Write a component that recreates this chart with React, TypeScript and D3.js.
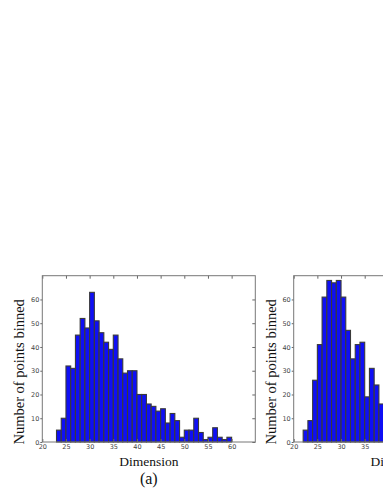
import { useEffect, useRef } from 'react';
import * as d3 from 'd3';

// bin start values (bin width = 1) and counts
const binsA = [20, 21, 22, 23, 24, 25, 26, 27, 28, 29, 30, 31, 32, 33, 34, 35, 36, 37, 38, 39, 40,
  41, 42, 43, 44, 45, 46, 47, 48, 49, 50, 51, 52, 53, 54, 55, 56, 57, 58, 59, 60, 61];
const countsA = [0, 0, 0, 5, 10, 32, 31, 45, 52, 48, 63, 51, 46, 42, 39, 45, 35, 29, 30, 30, 20,
  20, 16, 15, 13, 14, 8, 12, 9, 2, 5, 5, 10, 4, 1, 2, 6, 2, 1, 2, 0, 0];

const binsB = [20, 21, 22, 23, 24, 25, 26, 27, 28, 29, 30, 31, 32, 33, 34, 35, 36, 37, 38];
const countsB = [0, 0, 5, 9, 26, 41, 61, 68, 67, 68, 61, 47, 35, 41, 42, 19, 31, 24, 16];

const xTicksA = [20, 25, 30, 35, 40, 45, 50, 55, 60];
const xTicksB = [20, 25, 30, 35]; // the rest of panel (b) lies past the right edge
const yTicks = [0, 10, 20, 30, 40, 50, 60];

const xTitle = 'Dimension';
const yTitle = 'Number of points binned';

export default function App() {
  const svgRef = useRef(null);

  useEffect(() => {
    const svg = d3.select(svgRef.current);
    svg.selectAll('*').remove();

    const width = 383;
    const height = 495;
    const plotW = 213;
    const top = 275.7;
    const bottom = 442;

    const x = d3.scaleLinear().domain([20, 65]).range([0, plotW]);
    const y = d3.scaleLinear().domain([0, 70]).range([bottom - top, 0]);

    const drawPanel = (left, bins, counts, xTicks, caption) => {
      const g = svg.append('g').attr('transform', `translate(${left}, ${top})`);
      const h = bottom - top;

      g.append('rect')
        .attr('width', plotW)
        .attr('height', h)
        .attr('fill', 'white');

      g.selectAll('rect.bar')
        .data(bins.map((b, i) => ({ b, c: counts[i] })))
        .join('rect')
        .attr('class', 'bar')
        .attr('x', d => x(d.b))
        .attr('y', d => y(d.c))
        .attr('width', x(1) - x(0))
        .attr('height', d => h - y(d.c))
        .attr('fill', '#0f0ff5')
        .attr('stroke', '#3a3a3a')
        .attr('stroke-width', 1.1);

      const styleAxis = sel => {
        sel.select('.domain').remove();
        sel.selectAll('line').attr('stroke', '#666');
        sel.selectAll('text')
          .attr('font-family', 'DejaVu Sans')
          .attr('font-size', 6.5)
          .attr('fill', '#444');
      };

      g.append('g')
        .attr('transform', `translate(0, ${h})`)
        .call(d3.axisBottom(x).tickValues(xTicks).tickSizeInner(-3).tickSizeOuter(0).tickPadding(2))
        .call(styleAxis);

      g.append('g')
        .call(d3.axisTop(x).tickValues(xTicks).tickSizeInner(-3).tickSizeOuter(0).tickFormat(() => ''))
        .call(styleAxis);

      g.append('g')
        .call(d3.axisLeft(y).tickValues(yTicks).tickSizeInner(2).tickSizeOuter(0).tickPadding(1))
        .call(styleAxis);

      g.append('g')
        .attr('transform', `translate(${plotW}, 0)`)
        .call(d3.axisRight(y).tickValues(yTicks).tickSizeInner(-3).tickSizeOuter(0).tickFormat(() => ''))
        .call(styleAxis);

      g.append('rect')
        .attr('width', plotW)
        .attr('height', h)
        .attr('fill', 'none')
        .attr('stroke', '#777')
        .attr('stroke-width', 1);

      g.append('text')
        .attr('x', plotW / 2)
        .attr('y', h + 24)
        .attr('text-anchor', 'middle')
        .attr('font-family', 'Liberation Serif')
        .attr('font-size', 13.5)
        .attr('fill', '#111')
        .text(xTitle);

      g.append('text')
        .attr('transform', `translate(-18, ${h / 2 + 13}) rotate(-90)`)
        .attr('text-anchor', 'middle')
        .attr('font-family', 'Liberation Serif')
        .attr('font-size', 14.5)
        .attr('fill', '#111')
        .text(yTitle);

      if (caption) {
        g.append('text')
          .attr('x', plotW / 2)
          .attr('y', h + 42)
          .attr('text-anchor', 'middle')
          .attr('font-family', 'Liberation Serif')
          .attr('font-size', 16)
          .attr('fill', '#111')
          .text(caption);
      }
    };

    svg.attr('width', width).attr('height', height);
    drawPanel(42.3, binsA, countsA, xTicksA, '(a)');
    drawPanel(293.7, binsB, countsB, xTicksB, null);
  }, []);

  return (
    <div style={{ position: 'absolute', left: 0, top: 0, width: 383, height: 495, overflow: 'hidden', background: 'white' }}>
      <svg ref={svgRef} style={{ display: 'block' }}></svg>
    </div>
  );
}
